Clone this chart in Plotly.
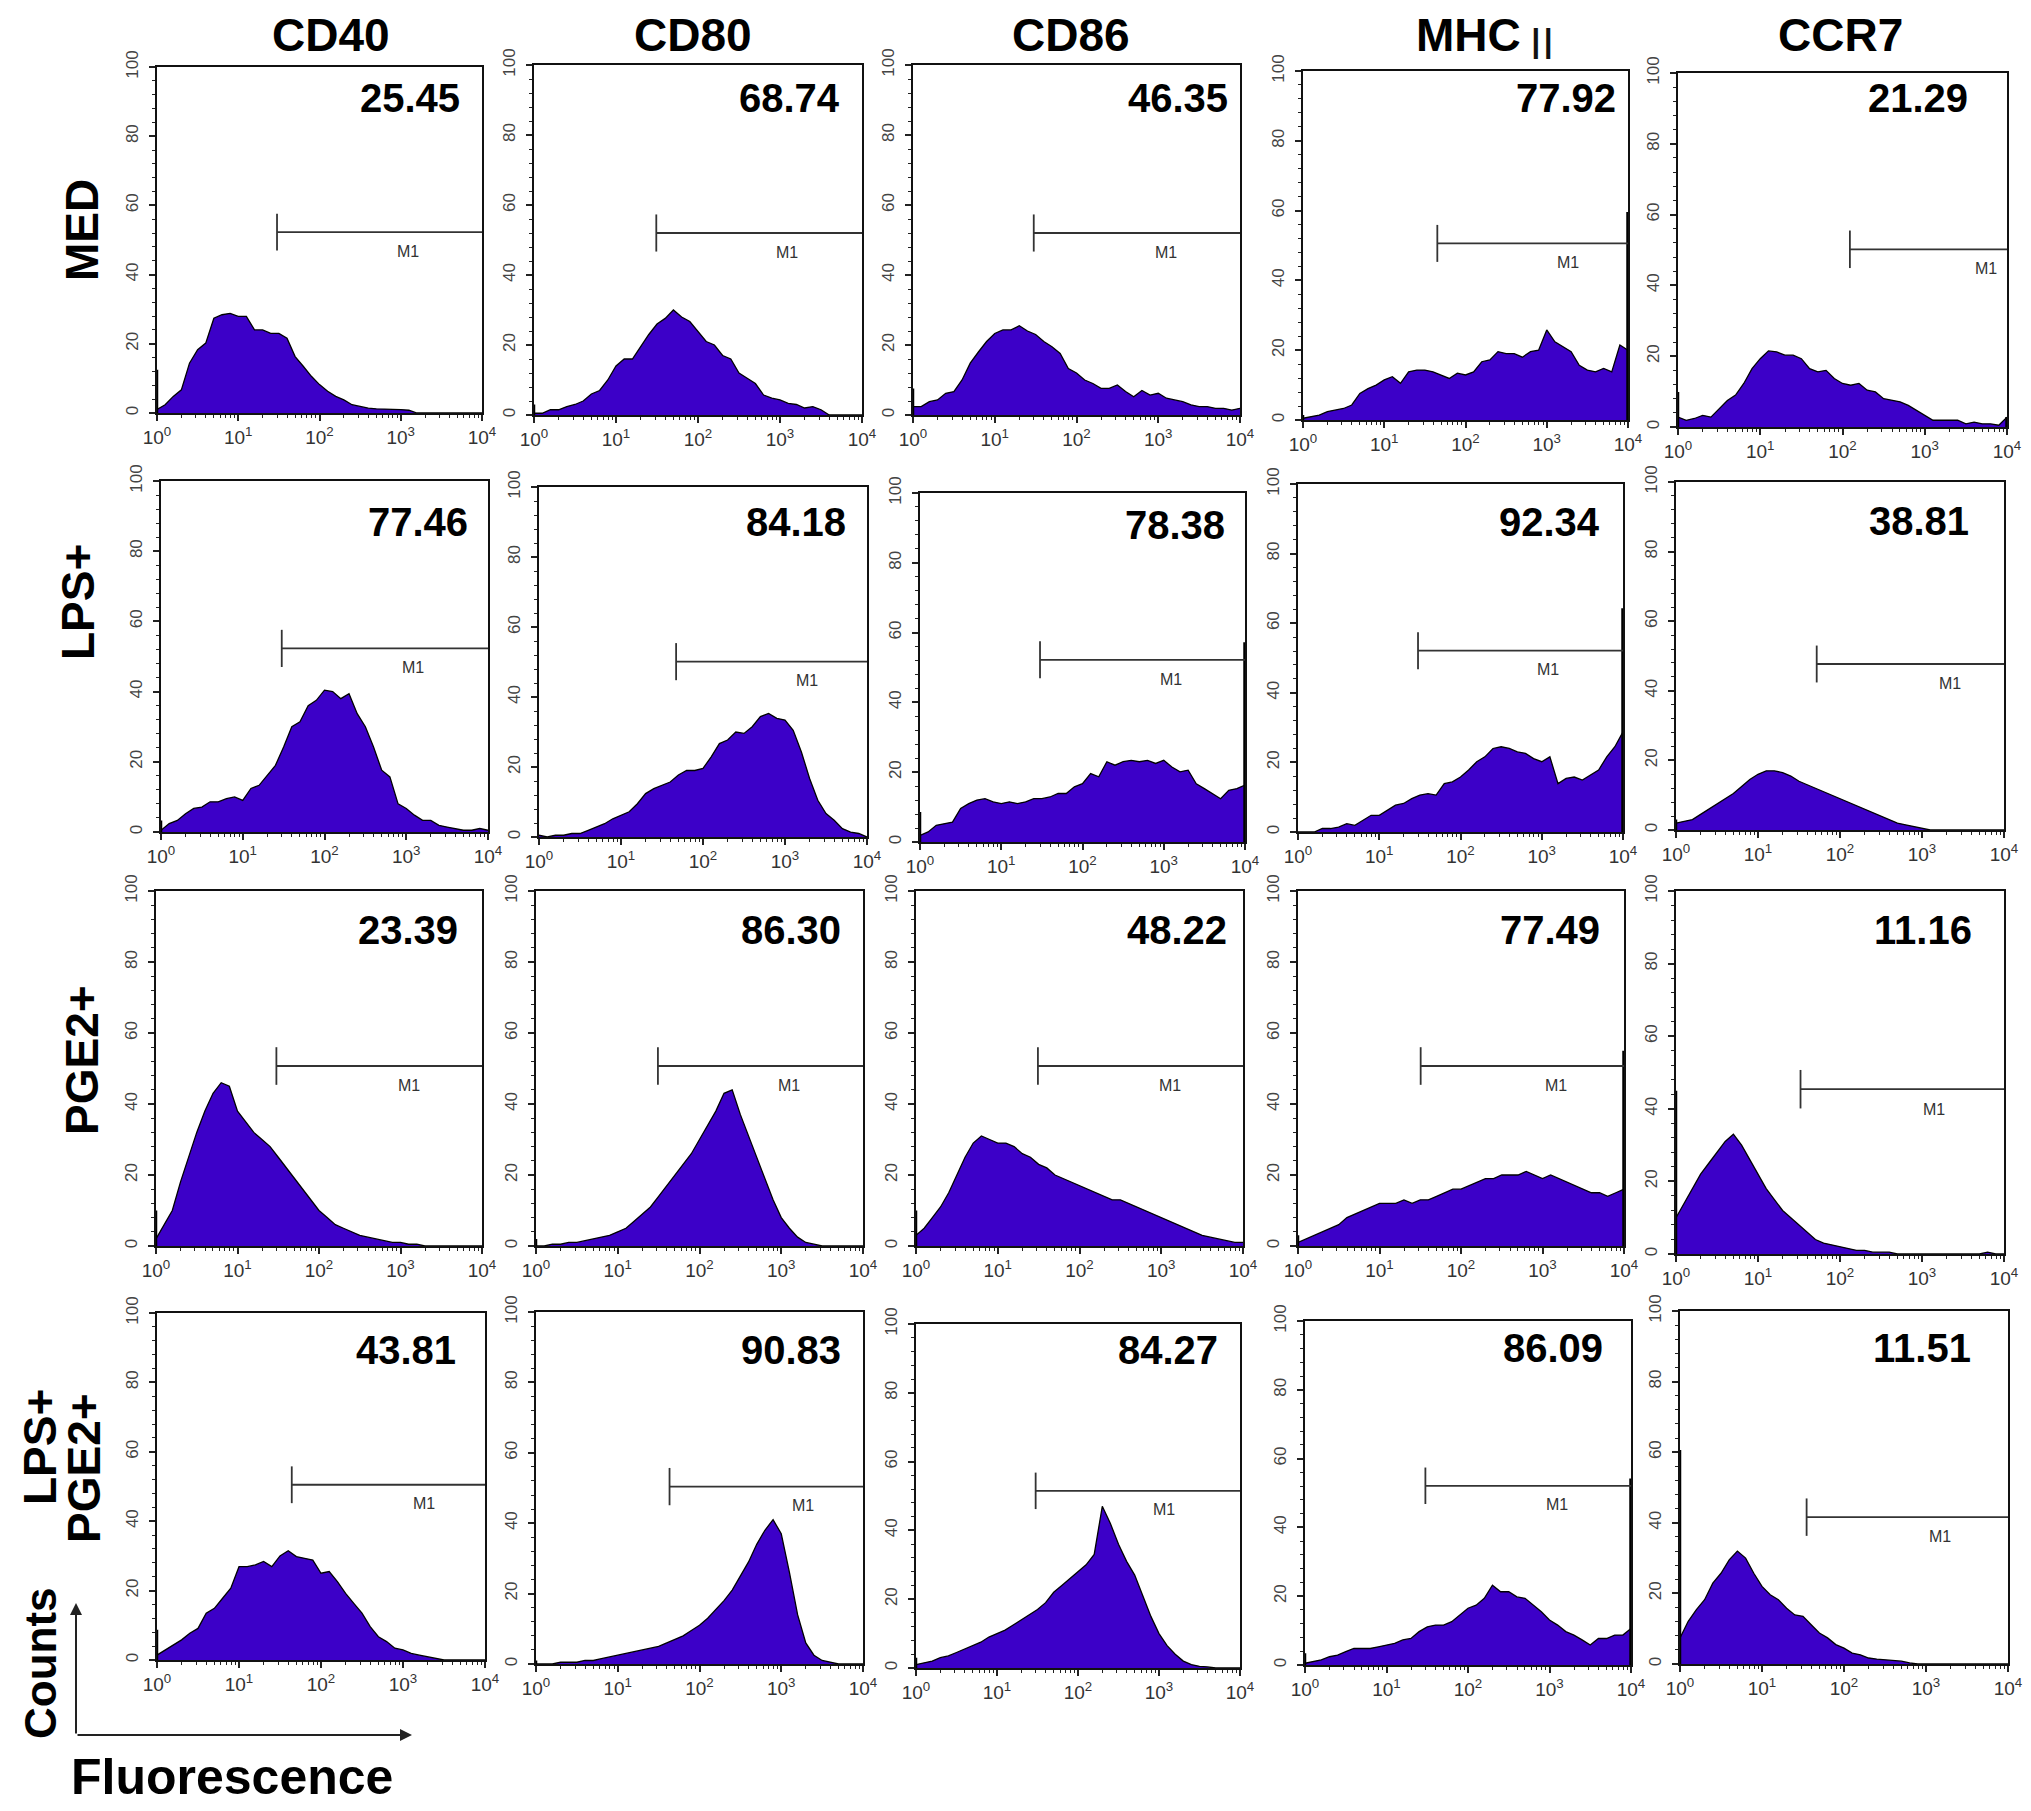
import plotly.graph_objects as go

W, H = 2031, 1811
PAGE_MARGIN = 8  # the html body margin shifts the figure on the page

# ---- data -------------------------------------------------------------
MARKERS = ["CD40", "CD80", "CD86", "MHC", "CCR7"]
MARKER_SUFFIX = ["", "", "", "Ⅱ", ""]
TREATMENTS = ["MED", "LPS+", "PGE2+", "LPS+<br>PGE2+"]

# histogram bins, log10(fluorescence) from 10^0 to 10^4
LOG_BINS = [i / 10 for i in range(41)]

# counts per bin
MED_CD40 = [1, 2.4, 4.8, 6.7, 14.4, 18.3, 20.2, 27.4, 28.4, 28.8, 27.9, 27.9, 24, 24, 23, 23, 21.6, 16.3, 13.5, 10.6,
            8.2, 6.3, 4.8, 3.8, 2.4, 1.9, 1.4, 1.2, 1.2, 1, 1, 0.8, 0, 0, 0, 0, 0, 0, 0, 0, 0]
MED_CD80 = [0.5, 0.5, 1.5, 1.5, 2.4, 3, 4, 6, 7, 10, 14, 16, 16, 19.5, 23, 26, 27.6, 30, 28, 26.7,
            24, 21, 20, 17, 16, 12, 10.5, 9, 5.7, 4.8, 4.3, 3.3, 3, 2, 2.4, 1.5, 0, 0, 0, 0, 0]
MED_CD86 = [2.4, 2.4, 3.8, 4.3, 6.2, 6.7, 10, 14.8, 18, 21, 23.3, 24.3, 24.3, 25.5, 24, 23, 21, 19.5, 17.6, 13.3,
            12, 10, 9, 7.6, 7.6, 8.6, 6.7, 5.2, 7, 5.7, 6.2, 4.8, 4.3, 3.8, 2.9, 2.4, 2.4, 1.9, 1.9, 1.4, 1.9]
MED_MHC = [0.5, 1, 1.4, 2.4, 2.9, 3.3, 4.3, 7.6, 9, 10, 11.5, 12.4, 10.5, 13.8, 14.3, 14.3, 13.8, 12.9, 11.9, 13.4,
           12.9, 13.8, 16.7, 17.2, 19.6, 19, 19, 18, 19.6, 20, 25.8, 22.4, 21, 19.6, 15.7, 14.3, 13.8, 14.8, 13.8, 21.5, 20]
MED_CCR7 = [2.8, 1.9, 2.4, 3.3, 2.8, 5.2, 7.5, 9, 12.3, 16.5, 19.3, 21.5, 21.2, 20.3, 20.3, 19.3, 16.5, 15.6, 16, 13.7,
            12.3, 11.8, 12.3, 10.4, 9.9, 8, 7.5, 7.1, 6.1, 4.7, 3.3, 1.9, 1.9, 1.9, 1.9, 0.9, 1.4, 0.9, 0.9, 0.5, 2.8]

LPS_CD40 = [0.5, 2.4, 3.3, 5.2, 6.7, 7.1, 8.6, 8.6, 9.5, 10, 9, 12.4, 13.3, 16.2, 19, 24.2, 30, 31.4, 36, 37.5,
            40.4, 40, 38, 39.4, 33.7, 30, 24.2, 17.6, 15.7, 8, 6.7, 4.8, 3.3, 3.3, 1.9, 1.4, 1, 0.5, 0.5, 1, 0.5]
LPS_CD80 = [0.5, 0, 0.5, 0.5, 1, 1, 1.9, 2.9, 3.8, 5.2, 6.2, 7.2, 9.5, 12.4, 13.8, 14.8, 15.7, 17.7, 19, 19,
            19.6, 22.9, 26.7, 27.7, 30, 29.6, 31.5, 34.4, 35.3, 33.9, 33.4, 30.5, 24.3, 16.7, 10.5, 6.7, 4.8, 2.4, 1.4, 1, 0]
LPS_CD86 = [1.9, 2.9, 4.8, 5.3, 5.7, 9.6, 11, 12, 12.4, 11.5, 11, 11.5, 11, 11.5, 12.4, 12.4, 12.9, 13.9, 13.9, 15.8,
            16.7, 19.6, 18.7, 23, 22, 23, 23.4, 23, 23.4, 22.5, 23.4, 21.5, 20.1, 20.6, 16.7, 15.3, 13.9, 12.4, 14.8, 15.3, 16.3]
LPS_MHC = [0, 0, 0, 1, 1, 1.4, 2.4, 1.9, 3.4, 4.8, 4.8, 6.2, 7.7, 8.2, 9.6, 10.6, 11, 10.6, 13.9, 14.4,
           15.8, 17.8, 20.2, 21.6, 24, 24.5, 24, 23, 22.6, 21.1, 20.2, 21.6, 13.9, 15.4, 15.8, 14.9, 16.3, 17.8, 21.6, 24.5, 28.8]
LPS_CCR7 = [2, 2.5, 3, 4.5, 6, 7.5, 9, 10.5, 12.5, 14.5, 16, 17, 17, 16.5, 15.5, 14, 13, 12, 11, 10,
            9, 8, 7, 6, 5, 4, 3, 2, 1.5, 1, 0.5, 0, 0, 0, 0, 0, 0, 0, 0, 0, 0]

PGE_CD40 = [2, 6, 10, 18, 25, 32, 38, 43, 46, 45, 38, 35, 32, 30, 28, 25, 22, 19, 16, 13,
            10, 8, 6, 5, 4, 3, 2.5, 2, 1.5, 1, 1, 0.5, 0.5, 0, 0, 0, 0, 0, 0, 0, 0]
PGE_CD80 = [0, 0, 0.5, 0.5, 1, 1, 1.5, 2, 2.5, 3, 4, 5, 7, 9, 11, 14, 17, 20, 23, 26,
            30, 34, 38, 43, 44, 37, 31, 25, 19, 13, 8, 5, 2.5, 1, 0.5, 0, 0, 0, 0, 0, 0]
PGE_CD86 = [3, 5, 8, 11, 15, 20, 25, 29, 31, 30, 29, 29, 28, 26, 25, 23, 22, 20, 19, 18,
            17, 16, 15, 14, 13, 13, 12, 11, 10, 9, 8, 7, 6, 5, 4, 3, 2.5, 2, 1.5, 1, 1]
PGE_MHC = [1, 2, 3, 4, 5, 6, 8, 9, 10, 11, 12, 12, 12, 13, 12, 13, 13, 14, 15, 16,
           16, 17, 18, 19, 19, 20, 20, 20, 21, 20, 19, 20, 19, 18, 17, 16, 15, 15, 14, 15, 16]
PGE_CCR7 = [10, 14, 18, 22, 25, 28, 31, 33, 30, 26, 22, 18, 15, 12, 10, 8, 6, 4, 3, 2.5,
            2, 1.5, 1, 1, 0.5, 0.5, 0.5, 0, 0, 0, 0, 0, 0, 0, 0, 0, 0, 0, 0.5, 0, 0]

LP_CD40 = [1.4, 2.9, 4.3, 5.8, 7.7, 9.1, 13.5, 14.9, 17.8, 20.7, 26.9, 26.9, 27.4, 28.4, 26.9, 30, 31.5, 29.8, 29.3, 28.8,
           25, 25.5, 22.6, 19.2, 16.3, 13.5, 9.6, 6.7, 5.3, 3.4, 2.9, 1.9, 1.4, 1, 0.5, 0, 0, 0, 0, 0, 0]
LP_CD80 = [0, 0, 0, 0.5, 0.5, 0.5, 1, 1, 1.5, 2, 2.5, 3, 3.5, 4, 4.5, 5, 6, 7, 8, 9.5,
           11, 13, 15.5, 18, 21, 25, 29, 34, 38, 41, 37, 26, 14, 6, 2.5, 1, 0.5, 0, 0, 0, 0]
LP_CD86 = [1, 1.5, 2, 3, 3.5, 4.5, 5.5, 6.5, 7.5, 9, 10, 11, 12.5, 14, 15.5, 17, 19, 22, 24, 26,
           28, 30, 33, 47, 42, 36, 31, 27, 21, 15, 10, 6.5, 4, 2, 1, 0.5, 0.3, 0, 0, 0, 0]
LP_MHC = [0.5, 1, 1.5, 2.4, 2.9, 3.9, 4.8, 4.8, 4.8, 5.3, 5.8, 6.3, 7.3, 7.7, 9.7, 11.1, 11.6, 11.6, 12.6, 14.5,
          16.5, 17.4, 19.4, 23.2, 21.3, 21.3, 19.8, 19.4, 17.4, 15.5, 13.1, 11.6, 9.7, 8.7, 7.3, 5.8, 7.7, 7.7, 8.7, 8.7, 10.6]
LP_CCR7 = [7.4, 12.1, 15.4, 18.2, 22.9, 25.7, 29.5, 32, 30, 25.7, 22, 19.6, 18.2, 15.8, 13.9, 13.5, 11.1, 8.8, 7.4, 5.5,
           4.5, 3.1, 2.6, 1.7, 1.4, 1.2, 0.9, 0.8, 0.3, 0, 0, 0, 0, 0, 0, 0, 0, 0, 0, 0, 0]

HISTS = [
    [MED_CD40, MED_CD80, MED_CD86, MED_MHC, MED_CCR7],
    [LPS_CD40, LPS_CD80, LPS_CD86, LPS_MHC, LPS_CCR7],
    [PGE_CD40, PGE_CD80, PGE_CD86, PGE_MHC, PGE_CCR7],
    [LP_CD40, LP_CD80, LP_CD86, LP_MHC, LP_CCR7],
]
# events piled up in the first / last channel
LEFT_EDGE = [[12.5, 3, 7.6, 1.4, 9.9], [3.3, 0, 8.6, 0, 3], [10, 2, 10, 3, 45], [8.7, 1, 3, 3.4, 60.6]]
RIGHT_EDGE = [[0, 0, 0, 59.6, 2.8], [0, 0, 57.2, 64.3, 0], [0, 0, 0, 55, 0], [0, 0, 0, 54.2, 0]]

# M1 gate: start channel and drawing level
GATE_START = [[30, 31, 30, 45, 123], [30, 47, 30, 30, 52], [30, 31, 31, 32, 33], [44, 43, 30, 30, 35]]
GATE_LEVEL = [[52.3, 52, 52, 50.6, 50.2], [52.3, 50.1, 52.2, 52.1, 47.7],
              [50.7, 50.7, 50.7, 50.7, 45.4], [50.5, 50.4, 51.5, 52.1, 41.6]]
PERCENT = [["25.45", "68.74", "46.35", "77.92", "21.29"],
           ["77.46", "84.18", "78.38", "92.34", "38.81"],
           ["23.39", "86.30", "48.22", "77.49", "11.16"],
           ["43.81", "90.83", "84.27", "86.09", "11.51"]]

# ---- layout (pixel boxes of every panel: left, right, top, bottom) -----
BOXES = [
    [(157, 482, 67, 413), (534, 862, 65, 415), (913, 1240, 65, 415), (1303, 1628, 71, 420), (1678, 2007, 73, 427)],
    [(161, 488, 481, 832), (539, 867, 487, 837), (920, 1245, 493, 842), (1298, 1623, 484, 832), (1676, 2004, 482, 830)],
    [(156, 482, 891, 1246), (536, 863, 891, 1246), (916, 1243, 891, 1246), (1298, 1624, 891, 1246), (1676, 2004, 891, 1254)],
    [(157, 485, 1313, 1660), (536, 863, 1312, 1664), (916, 1240, 1324, 1668), (1305, 1631, 1321, 1665), (1680, 2008, 1311, 1664)],
]
M1_POS = [[3.09, 3.08, 3.09, 3.26, 3.74], [3.08, 3.27, 3.09, 3.08, 3.34],
          [3.1, 3.09, 3.11, 3.16, 3.15], [3.25, 3.27, 3.06, 3.09, 3.17]]
NUM_INSET = [[20, 20, 10, 10, 37], [18, 19, 18, 21, 33], [22, 20, 14, 22, 30], [27, 20, 20, 26, 35]]
NUM_DROP = [[31, 33, 33, 27, 25], [41, 35, 32, 38, 39], [39, 39, 39, 39, 39], [37, 38, 26, 27, 37]]
HEADER_X = [331, 693, 1071, 1468, 1840]
SUFFIX_X = 1542
# centre of every text line of the row labels
ROW_LABEL = [[(82, 230)], [(78, 602)], [(82, 1060)], [(40, 1447), (84, 1468)]]

PURPLE = "#3C00C8"
FONT = "Liberation Sans, Arial, sans-serif"


def px(x):
    return (x - PAGE_MARGIN) / W


def py(y):
    return 1 - (y - PAGE_MARGIN) / H


fig = go.Figure()
xs = [10 ** b for b in LOG_BINS]
minor_vals = [m * 10 ** k for k in range(4) for m in range(2, 10)]
annotations = []

for r in range(4):
    for c in range(5):
        n = r * 5 + c + 1
        xa, ya = ("x", "y") if n == 1 else (f"x{n}", f"y{n}")
        left, right, top, bottom = BOXES[r][c]

        fig.add_trace(go.Scatter(x=xs, y=HISTS[r][c], mode="lines", fill="tozeroy",
                                 fillcolor=PURPLE, line=dict(color="#000", width=1.3),
                                 xaxis=xa, yaxis=ya, hoverinfo="skip"))
        if LEFT_EDGE[r][c] > 0:
            fig.add_trace(go.Scatter(x=[1, 1], y=[0, LEFT_EDGE[r][c]], mode="lines",
                                     line=dict(color="#000", width=2.5), xaxis=xa, yaxis=ya))
        if RIGHT_EDGE[r][c] > 0:
            fig.add_trace(go.Scatter(x=[1e4, 1e4], y=[0, RIGHT_EDGE[r][c]], mode="lines",
                                     line=dict(color="#000", width=3.5), xaxis=xa, yaxis=ya))

        g, lv = GATE_START[r][c], GATE_LEVEL[r][c]
        fig.add_trace(go.Scatter(x=[g, g, None, g, 1e4], y=[lv - 5.3, lv + 5.3, None, lv, lv], mode="lines",
                                 line=dict(color="#333", width=1.8), xaxis=xa, yaxis=ya))

        fig.layout[xa.replace("x", "xaxis")] = dict(
            domain=[px(left), px(right)], anchor=ya, type="log", range=[0, 4], automargin=False,
            showline=True, mirror=True, linecolor="#111", linewidth=2,
            ticks="outside", ticklen=6, tickwidth=1.5, tickcolor="#222",
            tickvals=[1, 10, 100, 1000, 10000],
            ticktext=["10<sup>0</sup>", "10<sup>1</sup>", "10<sup>2</sup>", "10<sup>3</sup>", "10<sup>4</sup>"],
            tickfont=dict(size=19, color="#333", family=FONT),
            minor=dict(tickvals=minor_vals, ticks="outside", ticklen=3, tickwidth=1.2, tickcolor="#222"),
            showgrid=False, zeroline=False, fixedrange=True)
        fig.layout[ya.replace("y", "yaxis")] = dict(
            domain=[py(bottom), py(top)], anchor=xa, range=[0, 100], automargin=False,
            showline=True, mirror=True, linecolor="#111", linewidth=2,
            ticks="outside", ticklen=6, tickwidth=1.5, tickcolor="#222",
            tickvals=[0, 20, 40, 60, 80, 100], tickangle=-90, ticklabelstandoff=4,
            tickfont=dict(size=17, color="#444", family=FONT),
            minor=dict(dtick=4, ticks="outside", ticklen=3, tickwidth=1.2, tickcolor="#222"),
            showgrid=False, zeroline=False, fixedrange=True)

        annotations.append(dict(x=px(right - NUM_INSET[r][c]), y=py(top + NUM_DROP[r][c]),
                                xref="paper", yref="paper",
                                text=PERCENT[r][c], showarrow=False, xanchor="right", yanchor="middle",
                                font=dict(size=40, color="#000", family=FONT, weight="bold")))
        annotations.append(dict(x=M1_POS[r][c], y=lv - 5.5, xref=xa, yref=ya, text="M1", showarrow=False,
                                xanchor="center", yanchor="middle",
                                font=dict(size=16, color="#333", family=FONT)))

for c, name in enumerate(MARKERS):
    annotations.append(dict(x=px(HEADER_X[c]), y=py(35), xref="paper", yref="paper", text=name,
                            showarrow=False, xanchor="center", yanchor="middle",
                            font=dict(size=46, color="#000", family=FONT, weight="bold")))
    if MARKER_SUFFIX[c]:
        annotations.append(dict(x=px(SUFFIX_X), y=py(41), xref="paper", yref="paper", text=MARKER_SUFFIX[c],
                                showarrow=False, xanchor="center", yanchor="middle",
                                font=dict(size=42, color="#111", family="Noto Sans CJK SC")))

for r, name in enumerate(TREATMENTS):
    for line, (x0, y0) in zip(name.split("<br>"), ROW_LABEL[r]):
        annotations.append(dict(x=px(x0), y=py(y0), xref="paper", yref="paper", text=line, textangle=-90,
                                showarrow=False, xanchor="center", yanchor="middle",
                                font=dict(size=46, color="#000", family=FONT, weight="bold")))

# axis key in the corner
annotations += [
    dict(x=px(76), y=py(1603), xref="paper", yref="paper", ax=0, ay=132, showarrow=True,
         arrowhead=2, arrowsize=1.2, arrowwidth=2, arrowcolor="#222", text=""),
    dict(x=px(412), y=py(1735), xref="paper", yref="paper", ax=-336, ay=0, showarrow=True,
         arrowhead=2, arrowsize=1.2, arrowwidth=2, arrowcolor="#222", text=""),
    dict(x=px(40), y=py(1663), xref="paper", yref="paper", text="Counts", textangle=-90, showarrow=False,
         xanchor="center", yanchor="middle",
         font=dict(size=44, color="#000", family=FONT, weight="bold")),
    dict(x=px(232), y=py(1777), xref="paper", yref="paper", text="Fluorescence", showarrow=False,
         xanchor="center", yanchor="middle",
         font=dict(size=50, color="#000", family=FONT, weight="bold")),
]

fig.update_layout(width=W, height=H, margin=dict(l=0, r=0, t=0, b=0, autoexpand=False),
                  paper_bgcolor="white", plot_bgcolor="white", showlegend=False,
                  annotations=annotations)

fig.write_html("out.html")
